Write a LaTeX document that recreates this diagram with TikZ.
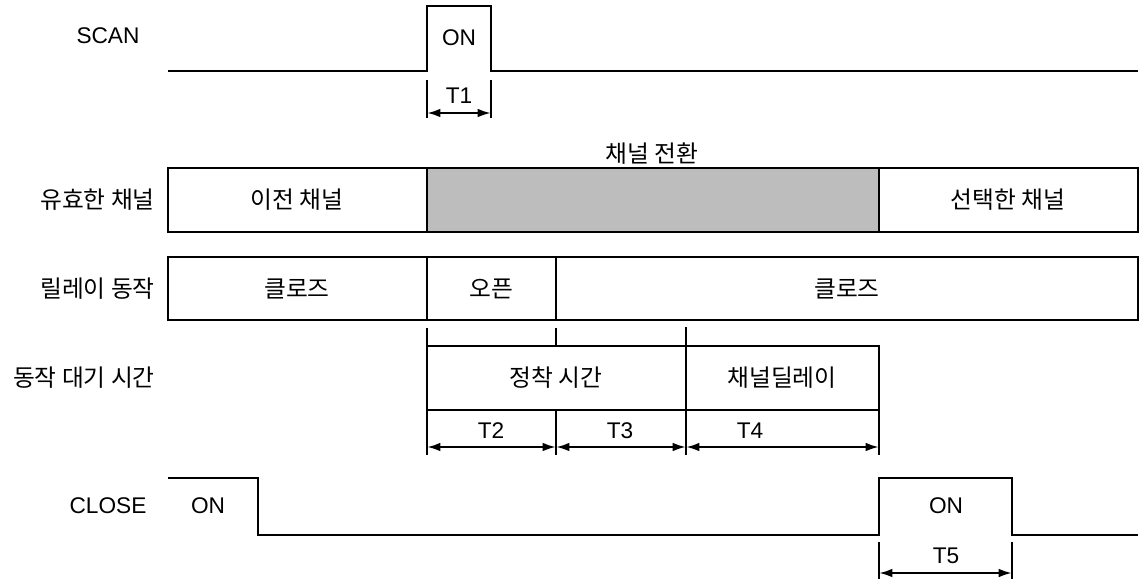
\documentclass[tikz,border=0pt]{standalone}
\usepackage{fontspec}
\setmainfont{Liberation Sans}
\newfontfamily\kr{Noto Sans CJK KR}
\usetikzlibrary{arrows.meta}
\tikzset{
  sig/.style={line width=2.2pt, line join=miter},
  boxline/.style={line width=2.2pt},
  ext/.style={line width=0.8pt},
  dim/.style={line width=1.7pt, {Latex[length=10pt,width=6.5pt]}-{Latex[length=10pt,width=6.5pt]}},
  txt/.style={font=\fontsize{17}{20}\selectfont, inner sep=0pt},
  ktxt/.style={font=\kr\fontsize{17.8}{20}\selectfont, inner sep=0pt},
  lbl/.style={ktxt, anchor=east},
}
\begin{document}
\begin{tikzpicture}[x=0.75pt,y=-0.75pt]
\useasboundingbox (0,0) rectangle (1142,579);
% SCAN
\node[txt] (scanL) at (108,36) {SCAN};
\draw[sig] (168,71) -- (427,71) -- (427,6) -- (491,6) -- (491,71) -- (1138,71);
\node[txt] (scanOn) at (459,38) {ON};
\coordinate (t1a) at (427,113); \coordinate (t1b) at (491,113);
\draw[ext] (427,80) -- (427,118) (491,80) -- (491,118);
\draw[dim] (t1a) -- (t1b);
\node[txt] (t1) at (459,96) {T1};
% channel switch
\node[ktxt] (sw) at (652,154) {채널 전환};
\fill[black!26] (427,168) rectangle (879,232);
\draw[boxline] (168,168) rectangle (1138,232);
\draw[boxline] (427,168) -- (427,232) (879,168) -- (879,232);
\node[lbl] (l1) at (155,200) {유효한 채널};
\node[ktxt] (prev) at (297,200) {이전 채널};
\node[ktxt] (sel) at (1008,200) {선택한 채널};
% relay
\draw[boxline] (168,257) rectangle (1138,320);
\draw[boxline] (427,257) -- (427,320) (556,257) -- (556,320);
\node[lbl] (l2) at (155,289) {릴레이 동작};
\node[ktxt] (cl1) at (297,289) {클로즈};
\node[ktxt] (op) at (491,289) {오픈};
\node[ktxt] (cl2) at (847,289) {클로즈};
% ticks
\draw[ext] (427,328) -- (427,346) (556,328) -- (556,346) (686,327) -- (686,346);
% wait time
\draw[boxline] (427,346) rectangle (879,410);
\draw[boxline] (686,346) -- (686,410);
\node[lbl] (l3) at (155,378) {동작 대기 시간};
\node[ktxt] (settle) at (556,378) {정착 시간};
\node[ktxt] (chd) at (782,378) {채널딜레이};
\draw[ext] (427,410) -- (427,455) (556,410) -- (556,455) (686,410) -- (686,455) (879,410) -- (879,455);
\coordinate (a2) at (427,447); \coordinate (a3) at (556,447);
\coordinate (a4) at (686,447); \coordinate (a5) at (879,447);
\draw[dim] (a2) -- (a3);
\draw[dim] (a3) -- (a4);
\draw[dim] (a4) -- (a5);
\node[txt] (t2) at (491,431) {T2};
\node[txt] (t3) at (620,431) {T3};
\node[txt] (t4) at (750,431) {T4};
% CLOSE
\node[txt] (closeL) at (108,506) {CLOSE};
\draw[sig] (168,478) -- (258,478) -- (258,535) -- (879,535) -- (879,478) -- (1012,478) -- (1012,535) -- (1138,535);
\node[txt] (on1) at (208,506) {ON};
\node[txt] (on2) at (946,506) {ON};
\draw[ext] (879,542) -- (879,579) (1012,542) -- (1012,579);
\coordinate (t5a) at (879,573); \coordinate (t5b) at (1012,573);
\draw[dim] (t5a) -- (t5b);
\node[txt] (t5) at (946,556) {T5};
\end{tikzpicture}
\end{document}
